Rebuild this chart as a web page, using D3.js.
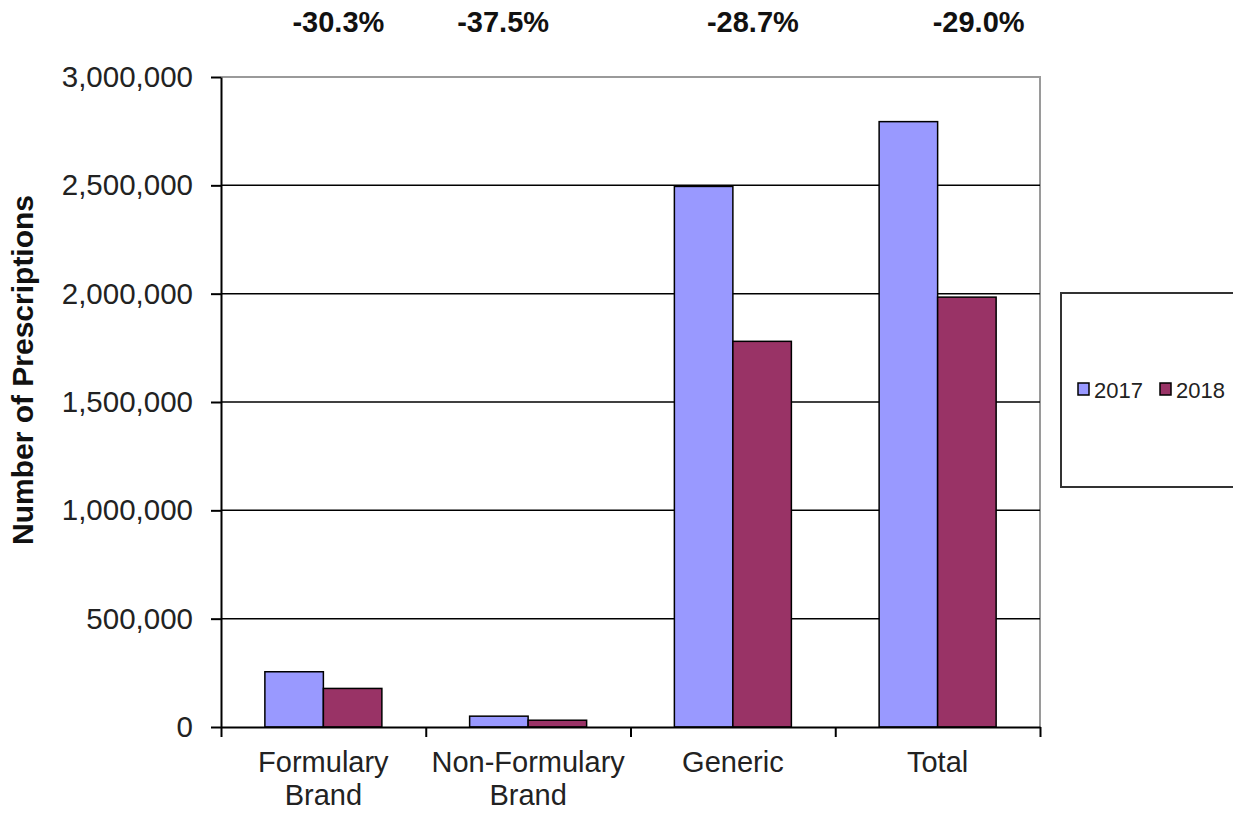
<!DOCTYPE html>
<html>
<head>
<meta charset="utf-8">
<script src="https://cdn.jsdelivr.net/npm/d3@7"></script>
<style>
    body { margin: 0; background: #fff; }
    svg { display: block; font-family: "Liberation Sans", Arial, sans-serif; }
</style>
</head>
<body>
<svg id="chart"></svg>
<script>
// data
const categories = [["Formulary", "Brand"], ["Non-Formulary", "Brand"], ["Generic"], ["Total"]];
const years = ["2017", "2018"];
const values2017 = [255000, 50000, 2495000, 2794000];
const values2018 = [178000, 31250, 1780000, 1984000];
const pctLabels = ["-30.3%", "-37.5%", "-28.7%", "-29.0%"];
const yTicks = [0, 500000, 1000000, 1500000, 2000000, 2500000, 3000000];
const colors = ["#9999ff", "#993366"];

class BarChart {
    constructor(config) {
        this.config = {
            parent: config.parent,
            width: config.width || 1233,
            height: config.height || 814,
            margin: config.margin || { top: 77, right: 193, bottom: 87, left: 221 }
        };
        this.init();
    }

    init() {
        let self = this;
        self.svg = d3.select(self.config.parent)
            .attr('width', self.config.width)
            .attr('height', self.config.height);

        self.chart = self.svg.append('g')
            .attr('transform', `translate(${self.config.margin.left}, ${self.config.margin.top})`);

        self.inner_width = self.config.width - self.config.margin.left - self.config.margin.right;
        self.inner_height = self.config.height - self.config.margin.top - self.config.margin.bottom;

        self.data = categories.map((c, i) => ({ name: c, key: c.join(' '), v: [values2017[i], values2018[i]] }));

        self.xscale = d3.scaleBand()
            .domain(self.data.map(d => d.key))
            .range([0, self.inner_width]);

        self.xsub = d3.scaleBand()
            .domain(years)
            .range([0, self.xscale.bandwidth()])
            .paddingOuter(0.75);

        self.yscale = d3.scaleLinear()
            .domain([0, 3000000])
            .range([self.inner_height, 0]);

        self.render();
    }

    render() {
        let self = this;
        const W = self.inner_width, H = self.inner_height;

        // plot border (grey) on top and right
        self.chart.append('path')
            .attr('d', `M0,0H${W}V${H}`)
            .attr('fill', 'none')
            .attr('stroke', '#9a9a9a')
            .attr('stroke-width', 2);

        // gridlines
        self.chart.selectAll('.grid')
            .data(yTicks.filter(t => t > 0 && t < 3000000))
            .join('line')
            .attr('x1', 0).attr('x2', W)
            .attr('y1', d => self.yscale(d)).attr('y2', d => self.yscale(d))
            .attr('stroke', '#000')
            .attr('stroke-width', 1.5);

        // bars
        const groups = self.chart.selectAll('.grp')
            .data(self.data)
            .join('g')
            .attr('transform', d => `translate(${self.xscale(d.key)},0)`);

        groups.selectAll('rect')
            .data(d => d.v.map((v, i) => ({ year: years[i], v: v, i: i })))
            .join('rect')
            .attr('x', d => self.xsub(d.year))
            .attr('y', d => self.yscale(d.v))
            .attr('width', self.xsub.bandwidth())
            .attr('height', d => H - self.yscale(d.v))
            .attr('fill', d => colors[d.i])
            .attr('stroke', '#000')
            .attr('stroke-width', 1.5);

        // y axis
        const yaxis = d3.axisLeft(self.yscale)
            .tickValues(yTicks)
            .tickFormat(d3.format(','))
            .tickSize(10)
            .tickSizeOuter(0)
            .tickPadding(18);

        const yg = self.chart.append('g').call(yaxis);
        yg.selectAll('line, path').attr('stroke', '#000').attr('stroke-width', 2);
        yg.selectAll('text')
            .style('font-size', '29.5px')
            .attr('fill', '#222');

        // x axis: ticks on category boundaries
        const xb = d3.scaleLinear().domain([0, categories.length]).range([0, W]);
        const xaxis = d3.axisBottom(xb)
            .ticks(categories.length)
            .tickFormat('')
            .tickSize(10)
            .tickSizeOuter(0);
        const xg = self.chart.append('g')
            .attr('transform', `translate(0, ${H})`)
            .call(xaxis);
        xg.selectAll('line, path').attr('stroke', '#000').attr('stroke-width', 2);

        // category labels
        self.chart.selectAll('.cat')
            .data(self.data)
            .join('text')
            .attr('x', d => self.xscale(d.key) + self.xscale.bandwidth() / 2)
            .attr('y', H + 45)
            .attr('text-anchor', 'middle')
            .style('font-size', '29px')
            .attr('fill', '#222')
            .each(function (d) {
                d.name.forEach((line, k) => {
                    d3.select(this).append('tspan')
                        .attr('x', self.xscale(d.key) + self.xscale.bandwidth() / 2)
                        .attr('dy', k === 0 ? 0 : 33)
                        .text(line);
                });
            });

        // percent change labels (hand-placed text boxes in the original)
        const pctShift = [15, -25, 20, 41];
        self.chart.selectAll('.pct')
            .data(pctLabels)
            .join('text')
            .attr('x', (d, i) => self.xscale(self.data[i].key) + self.xscale.bandwidth() / 2 + pctShift[i])
            .attr('y', 32 - self.config.margin.top)
            .attr('text-anchor', 'middle')
            .style('font-size', '29px')
            .style('font-weight', 'bold')
            .attr('fill', '#111')
            .text(d => d);

        // y label
        self.svg.append('text')
            .attr('transform', `translate(33, 370) rotate(-90)`)
            .attr('text-anchor', 'middle')
            .style('font-size', '30px')
            .style('font-weight', 'bold')
            .attr('fill', '#111')
            .text('Number of Prescriptions');

        // legend
        const lg = self.svg.append('g');
        lg.append('rect')
            .attr('x', 1061).attr('y', 293)
            .attr('width', 200).attr('height', 194)
            .attr('fill', '#fff')
            .attr('stroke', '#333')
            .attr('stroke-width', 2);

        const items = lg.selectAll('.item')
            .data(years)
            .join('g')
            .attr('transform', (d, i) => `translate(${1078 + i * 82}, 390)`);
        items.append('rect')
            .attr('x', 0).attr('y', -7)
            .attr('width', 11).attr('height', 12)
            .attr('fill', (d, i) => colors[i])
            .attr('stroke', '#000')
            .attr('stroke-width', 1.5);
        items.append('text')
            .attr('x', 16).attr('y', 7.5)
            .style('font-size', '22px')
            .attr('fill', '#222')
            .text(d => d);
    }
}

new BarChart({ parent: '#chart' });
</script>
</body>
</html>
